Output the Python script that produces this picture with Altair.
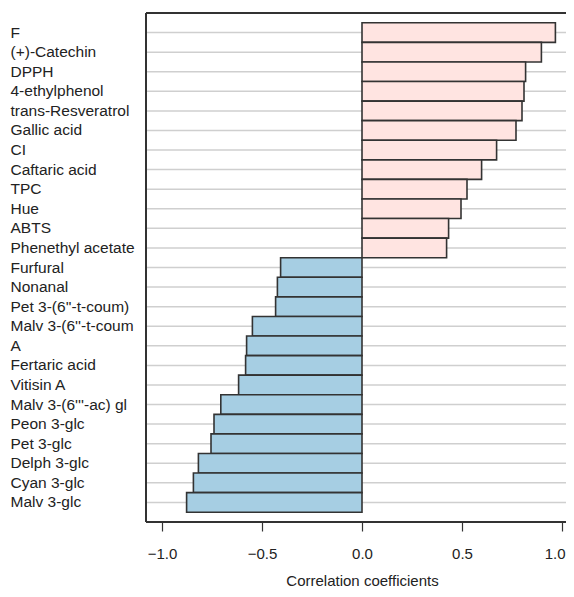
import altair as alt
import pandas as pd

names = ["F", "(+)-Catechin", "DPPH", "4-ethylphenol", "trans-Resveratrol",
         "Gallic acid", "CI", "Caftaric acid", "TPC", "Hue", "ABTS",
         "Phenethyl acetate", "Furfural", "Nonanal", "Pet 3-(6''-t-coum)",
         "Malv 3-(6''-t-coum", "A", "Fertaric acid", "Vitisin A",
         "Malv 3-(6'''-ac) gl", "Peon 3-glc", "Pet 3-glc", "Delph 3-glc",
         "Cyan 3-glc", "Malv 3-glc"]
values = [0.967, 0.897, 0.818, 0.810, 0.800, 0.770, 0.673, 0.598, 0.525,
          0.495, 0.433, 0.423, -0.407, -0.423, -0.432, -0.548, -0.577,
          -0.582, -0.617, -0.706, -0.740, -0.755, -0.818, -0.843, -0.877]
x_ticks = [-1.0, -0.5, 0.0, 0.5, 1.0]

df = pd.DataFrame({"name": names, "value": values})
df["sign"] = ["pos" if v >= 0 else "neg" for v in values]

W, H = 420, 509
FONT = "Liberation Sans"

yenc = alt.Y("name:N", sort=names,
             scale=alt.Scale(paddingInner=0, paddingOuter=0.5),
             axis=alt.Axis(title=None, ticks=False, domain=False,
                           labelAlign="left", labelPadding=136,
                           labelFont=FONT, labelFontSize=15.5,
                           labelColor="#222222", labelLimit=300))

xscale = alt.Scale(domain=[-1.08, 1.02], nice=False, zero=False)

grid = alt.Chart(df).mark_rule(color="#cfcfcf", strokeWidth=1.5).encode(
    y=alt.Y("name:N", sort=names, bandPosition=0.5,
            scale=alt.Scale(paddingInner=0, paddingOuter=0.5)),
    x=alt.value(0), x2=alt.value(W)
)

bars = alt.Chart(df).mark_bar(stroke="#333333", strokeWidth=1.6).encode(
    y=yenc,
    x=alt.X("value:Q", scale=xscale,
            axis=alt.Axis(values=x_ticks, format=".1f", grid=False,
                          domain=False, tickSize=9, tickColor="#333333",
                          tickWidth=1.2, labelFont=FONT, labelFontSize=15,
                          labelColor="#222222", labelPadding=22,
                          labelBaseline="middle",
                          labelAlign=alt.ExprRef(
                              expr="datum.value >= 1 ? 'right' : 'center'"),
                          labelOffset=alt.ExprRef(
                              expr="datum.value >= 1 ? 3 : 0"),
                          title="Correlation coefficients",
                          titleFont=FONT, titleFontSize=15,
                          titleFontWeight="normal", titleColor="#222222",
                          titleBaseline="alphabetic", titleY=63,
                          titleX=216)),
    x2=alt.X2(datum=0),
    color=alt.Color("sign:N",
                    scale=alt.Scale(domain=["pos", "neg"],
                                    range=["#ffe4e1", "#a6cee3"]),
                    legend=None)
)

box_top = alt.Chart(df).mark_rule(color="#333333", strokeWidth=1.5).encode(
    x=alt.value(0), x2=alt.value(W), y=alt.value(0))
box_left = alt.Chart(df).mark_rule(color="#333333", strokeWidth=1.5).encode(
    x=alt.value(0), y=alt.value(0), y2=alt.value(H))
box_bottom = alt.Chart(df).mark_rule(color="#333333", strokeWidth=1.5).encode(
    x=alt.value(0), x2=alt.value(W), y=alt.value(H))

chart = alt.layer(grid, bars, box_top, box_left, box_bottom).properties(
    width=W, height=H,
    autosize=alt.AutoSizeParams(type="none"),
    padding={"left": 138, "top": 5, "right": 0, "bottom": 67},
    background="white"
).configure_view(stroke=None)

chart.save("out.html", embed_options={"renderer": "svg", "actions": False})
